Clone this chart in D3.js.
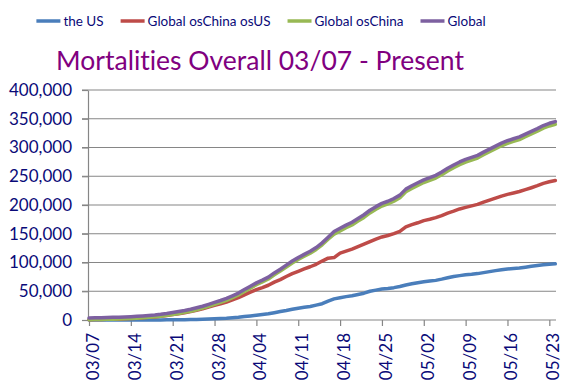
<!DOCTYPE html>
<html>
<head>
<meta charset="utf-8">
<script src="https://cdnjs.cloudflare.com/ajax/libs/d3/7.8.5/d3.min.js"></script>
<style>
body { margin: 0; background: #fff; }
svg text { font-family: Lato, "Open Sans", sans-serif; font-variant-ligatures: none; font-feature-settings: "liga" 0; }
</style>
</head>
<body>
<svg width="580" height="389"></svg>
<script>
var width = 580;
var height = 389;

// dates run daily from first_day to last_day (2020)
var first_day = "03/07";
var last_day = "05/24";
var tick_labels = ["03/07", "03/14", "03/21", "03/28", "04/04", "04/11",
                   "04/18", "04/25", "05/02", "05/09", "05/16", "05/23"];
var y_ticks = [0, 50000, 100000, 150000, 200000, 250000, 300000, 350000, 400000];

var series_names = ["the US", "Global osChina osUS", "Global osChina", "Global"];
var series_colors = ["#4A7EBB", "#BE4B48", "#98B954", "#7D60A0"];

// cumulative deaths, one value per day 03/07 .. 05/24
var the_us = [17, 21, 22, 28, 36, 40, 47, 54, 63, 85,
    108, 118, 200, 244, 307, 427, 552, 706, 942, 1209,
    1581, 2026, 2467, 2978, 3873, 4757, 5926, 7087, 8407, 9619,
    10783, 12722, 14695, 16478, 18586, 20463, 22020, 23529, 25831, 28325,
    32916, 36773, 38664, 40661, 42094, 44444, 46622, 49954, 51949, 53755,
    54881, 56259, 58355, 60967, 62996, 64943, 66369, 67682, 68922, 71064,
    73455, 75662, 77180, 78795, 79526, 80682, 82376, 84119, 85898, 87530,
    88754, 89562, 90347, 91921, 93439, 94702, 95979, 97087, 97711];

var global_os_china_os_us = [469, 682, 844, 1094, 1417, 1507, 2177, 2572, 3174, 3824,
    4567, 5374, 6418, 7802, 9407, 10922, 12671, 14628, 16954, 19470,
    22321, 25327, 28154, 31296, 34925, 38736, 43735, 48374, 52869, 56422,
    60447, 65808, 70306, 75638, 80599, 84697, 88728, 92608, 96808, 102506,
    107538, 108600, 116209, 119747, 123256, 127503, 131809, 136268, 140574, 144455,
    147027, 150272, 154162, 162035, 165756, 169071, 172803, 175152, 177979, 181539,
    185740, 189269, 193082, 195880, 198547, 201012, 204930, 208442, 211884, 215500,
    218391, 220987, 223498, 226728, 230040, 233586, 237545, 240374, 242712];

var global_os_china = [486, 703, 866, 1122, 1453, 1547, 2224, 2626, 3237, 3909,
    4675, 5492, 6618, 8046, 9714, 11349, 13223, 15334, 17896, 20679,
    23902, 27353, 30621, 34274, 38798, 43493, 49661, 55461, 61276, 66041,
    71230, 78530, 85001, 92116, 99185, 105160, 110748, 116137, 122639, 130831,
    140454, 149185, 154873, 160408, 165350, 171947, 178431, 186222, 192523, 198210,
    201908, 206531, 212517, 223002, 228752, 234014, 239172, 242834, 246901, 252603,
    259195, 264931, 270262, 274675, 278073, 281694, 287306, 292561, 297782, 303030,
    307145, 310549, 313845, 318649, 323479, 328288, 333524, 337461, 340423];

var global_all = [3558, 3802, 3988, 4262, 4615, 4720, 5404, 5819, 6440, 7126,
    7905, 8733, 9867, 11299, 12973, 14623, 16497, 18615, 21181, 23970,
    27198, 30652, 33925, 37582, 42107, 46809, 52983, 58787, 64606, 69374,
    74565, 81865, 88338, 95455, 102525, 108503, 114091, 119482, 125984, 134177,
    143800, 153821, 159509, 165044, 169986, 176583, 183067, 190858, 197159, 202846,
    206544, 211167, 217153, 227638, 233388, 238650, 243808, 247470, 251537, 257239,
    263831, 269567, 274898, 279311, 282709, 286330, 291942, 297197, 302418, 307666,
    311781, 315185, 318481, 323285, 328115, 332924, 338160, 342097, 345059];

var series_values = [the_us, global_os_china_os_us, global_os_china, global_all];

var parse_day = function(s) { return d3.timeParse("%m/%d/%Y")(s + "/2020"); };
var start = parse_day(first_day);
var end = parse_day(last_day);
var days = d3.timeDay.range(start, d3.timeDay.offset(end, 1));
var tick_days = tick_labels.map(parse_day);

var plot_left = 88, plot_right = 556, plot_top = 90, plot_bottom = 320;
var grid_color = "#868686";
var text_color = "#0a0a78";

var x = d3.scaleTime()
    .domain([start, end])
    .range([89, 555.3]);

var y = d3.scaleLinear()
    .domain([0, 400000])
    .range([plot_bottom, plot_top]);

var svg = d3.select("svg")
    .attr("width", width)
    .attr("height", height);

svg.append("rect").attr("width", width).attr("height", height).attr("fill", "#fff");

// gridlines
svg.append("g").selectAll("line")
    .data(y_ticks.filter(function(d) { return d > 0; }))
  .enter().append("line")
    .attr("x1", plot_left - 6)
    .attr("x2", plot_right)
    .attr("y1", function(d) { return y(d); })
    .attr("y2", function(d) { return y(d); })
    .attr("stroke", grid_color)
    .attr("stroke-width", 1.2);

// y axis
var y_axis = svg.append("g")
    .attr("transform", "translate(" + plot_left + ",0)")
    .call(d3.axisLeft(y).tickValues(y_ticks).tickSize(6).tickSizeOuter(0)
        .tickPadding(10).tickFormat(d3.format(",")));

// x axis
var x_axis = svg.append("g")
    .attr("transform", "translate(0," + plot_bottom + ")")
    .call(d3.axisBottom(x).tickValues(tick_days).tickSize(6).tickSizeOuter(0)
        .tickFormat(d3.timeFormat("%m/%d")));

x_axis.select(".domain").attr("d", "M" + plot_left + ",0H" + plot_right);

[x_axis, y_axis].forEach(function(ax) {
    ax.select(".domain").attr("stroke", grid_color).attr("stroke-width", 1.2);
    ax.selectAll(".tick line").attr("stroke", grid_color).attr("stroke-width", 1.2);
    ax.selectAll("text")
        .attr("fill", text_color)
        .style("font-size", "17px");
});

x_axis.selectAll(".tick text")
    .attr("transform", "rotate(-90)")
    .attr("text-anchor", "end")
    .attr("x", -13)
    .attr("y", 9.5)
    .attr("dy", 0);

// lines
var line = d3.line()
    .x(function(d, i) { return x(days[i]); })
    .y(function(d) { return y(d); });

svg.append("g").selectAll("path")
    .data(series_values)
  .enter().append("path")
    .attr("d", function(d) { return line(d); })
    .attr("fill", "none")
    .attr("stroke", function(d, i) { return series_colors[i]; })
    .attr("stroke-width", 3.5)
    .attr("stroke-linejoin", "round")
    .attr("stroke-linecap", "round");

// title
svg.append("text")
    .attr("x", 260)
    .attr("y", 70)
    .attr("text-anchor", "middle")
    .attr("fill", "#800080")
    .style("font-size", "26.5px")
    .text("Mortalities Overall 03/07 - Present");

// legend
var legend = svg.append("g");
var items = legend.selectAll(".item")
    .data(series_names)
  .enter().append("g")
    .attr("class", "item");

items.append("line")
    .attr("x1", 0).attr("x2", 24)
    .attr("y1", 0).attr("y2", 0)
    .attr("stroke", function(d, i) { return series_colors[i]; })
    .attr("stroke-width", 3.5);

items.append("text")
    .attr("x", 27)
    .attr("dy", "0.35em")
    .attr("fill", text_color)
    .style("font-size", "13.5px")
    .text(function(d) { return d; });

var offsets = [];
var cursor = 0;
items.each(function() {
    var w = 27 + d3.select(this).select("text").node().getComputedTextLength();
    offsets.push(cursor);
    cursor += w + 17;
});
var legend_w = cursor - 17;
items.attr("transform", function(d, i) {
    return "translate(" + (261 - legend_w / 2 + offsets[i]) + ",21)";
});
</script>
</body>
</html>
